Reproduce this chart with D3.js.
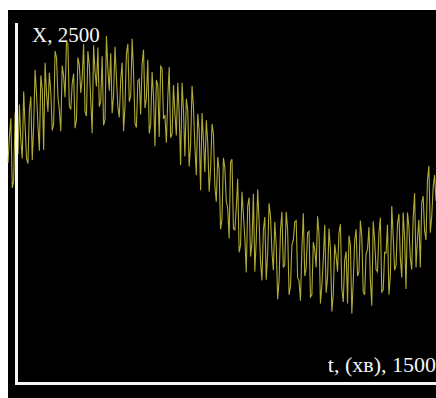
<!DOCTYPE html>
<html>
<head>
<meta charset="utf-8">
<script src="https://cdn.jsdelivr.net/npm/d3@7/dist/d3.min.js"></script>
<style>
  html, body { margin: 0; padding: 0; background: #ffffff; }
  svg { display: block; }
</style>
</head>
<body>
<script>
// Measured signal X(t), sampled every 5 minutes from t = 0 to t = 1500
const timeStep = 5;
const signalValues = [
  1530, 1715, 1840, 1355, 1410, 1880, 1775, 1590, 1935, 1685,
  1560, 2025, 1780, 1560, 1525, 1895, 1990, 1550, 1785, 2175,
  2010, 1790, 1615, 2135, 2040, 1620, 2225, 2010, 1885, 2155,
  2020, 1755, 1800, 2305, 2260, 1990, 1895, 1750, 2205, 2130,
  1985, 2370, 2350, 1925, 1900, 2080, 2150, 1770, 1830, 2260,
  2210, 2015, 2115, 2355, 1885, 1855, 2305, 2205, 1965, 1735,
  2345, 2160, 2060, 2330, 1920, 1960, 2270, 1790, 1830, 2410,
  2185, 2030, 2290, 1875, 1995, 2335, 2120, 1920, 1845, 2105,
  2225, 1750, 1920, 2285, 2355, 1955, 1990, 2390, 2165, 1805,
  1775, 2100, 2110, 1865, 2215, 2315, 1910, 1980, 2245, 1735,
  1795, 2160, 1990, 1645, 2105, 2070, 1710, 2200, 2185, 1835,
  1860, 1670, 1980, 2195, 1705, 1730, 2070, 1870, 1720, 2085,
  1865, 1515, 2085, 1895, 1575, 1975, 1895, 1505, 1655, 2065,
  1915, 1645, 1445, 1870, 1750, 1340, 1875, 1685, 1465, 1825,
  1670, 1330, 1490, 1800, 1730, 1370, 1260, 1570, 1480, 1070,
  1140, 1565, 1495, 1265, 1215, 1005, 1535, 1555, 1075, 1065,
  1215, 1420, 910, 960, 1330, 1170, 1010, 770, 1230, 1290,
  880, 975, 1315, 775, 995, 1345, 1125, 845, 715, 1065,
  1155, 720, 900, 1250, 1160, 915, 785, 1120, 960, 585,
  715, 1060, 1190, 805, 825, 1190, 1070, 615, 675, 960,
  995, 1120, 1130, 735, 710, 575, 930, 1180, 745, 800,
  1045, 1055, 600, 615, 980, 930, 805, 1160, 1035, 555,
  680, 860, 1100, 630, 735, 1075, 935, 500, 615, 965,
  885, 775, 1045, 1105, 655, 565, 855, 915, 555, 1025,
  960, 485, 705, 990, 1070, 745, 775, 1130, 1020, 635,
  615, 900, 930, 1085, 715, 540, 1125, 990, 790, 775,
  1040, 1150, 635, 650, 910, 905, 1100, 615, 745, 1230,
  1015, 785, 820, 1105, 1175, 870, 735, 1185, 1005, 655,
  1185, 1090, 870, 790, 1150, 1320, 805, 1005, 1135, 805,
  1255, 1300, 1060, 995, 1410, 1510, 1045, 1155, 1360, 1445,
  1265
];
const timeMax = 1500;
const valueMax = 2500;
const yLabel = "X, 2500";
const xLabel = "t, (хв), 1500";

const W = 436, H = 398;
const svg = d3.select("body").append("svg")
  .attr("width", W).attr("height", H);

// slight softening of the trace
const defs = svg.append("defs");
defs.append("filter").attr("id", "soft")
  .append("feGaussianBlur").attr("stdDeviation", 0.35);

// dark plotting board
svg.append("rect")
  .attr("x", 8).attr("y", 10)
  .attr("width", W - 8).attr("height", H - 10)
  .attr("fill", "#000000");

const x = d3.scaleLinear().domain([0, timeMax]).range([8, 436]);
const y = d3.scaleLinear().domain([0, valueMax]).range([383.5, 23]);

const points = signalValues.map((v, i) => ({ t: i * timeStep, v }));

const line = d3.line()
  .x(d => x(d.t))
  .y(d => y(d.v));

svg.append("path")
  .datum(points)
  .attr("d", line)
  .attr("fill", "none")
  .attr("stroke", "#cfc83e")
  .attr("stroke-opacity", 0.85)
  .attr("stroke-width", 1.1)
  .attr("filter", "url(#soft)");

// axes: vertical X axis and horizontal time axis
const axisColor = "#f4f4f4";
svg.append("line")
  .attr("x1", x(0) + 8.5).attr("x2", x(0) + 8.5)
  .attr("y1", y(valueMax)).attr("y2", y(0) + 1.5)
  .attr("stroke", axisColor).attr("stroke-width", 3);
svg.append("line")
  .attr("x1", x(0) + 7).attr("x2", x(timeMax))
  .attr("y1", y(0)).attr("y2", y(0))
  .attr("stroke", axisColor).attr("stroke-width", 3);

svg.append("text")
  .attr("x", 32).attr("y", 42)
  .attr("font-family", "'Liberation Serif', 'Times New Roman', serif")
  .attr("font-size", 21)
  .attr("fill", axisColor)
  .text(yLabel);

svg.append("text")
  .attr("x", 436).attr("y", 372)
  .attr("text-anchor", "end")
  .attr("font-family", "'Liberation Serif', 'Times New Roman', serif")
  .attr("font-size", 22)
  .attr("fill", axisColor)
  .text(xLabel);
</script>
</body>
</html>
